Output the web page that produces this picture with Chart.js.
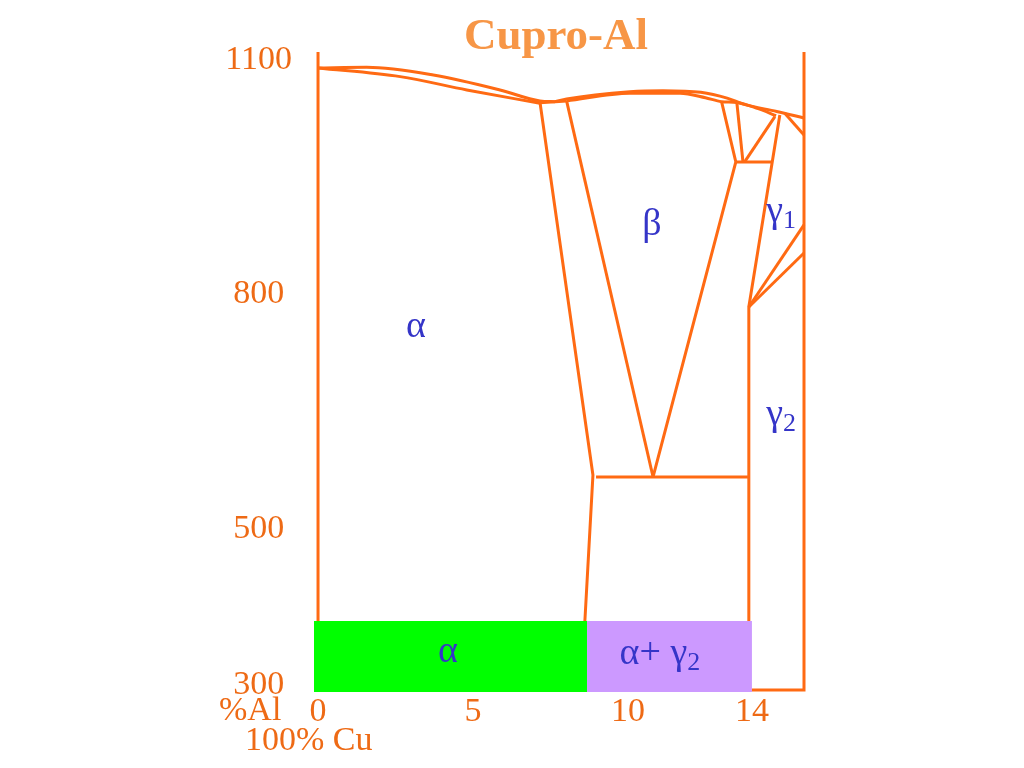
<!DOCTYPE html>
<html>
<head>
<meta charset="utf-8">
<script src="https://cdn.jsdelivr.net/npm/chart.js@4.4.1/dist/chart.umd.min.js"></script>
<style>
  html, body { margin: 0; padding: 0; background: #fff; }
  #wrap { width: 1024px; height: 768px; }
</style>
</head>
<body>
<div id="wrap"><canvas id="c"></canvas></div>
<script>
// tick labels
const xTicks = [0, 5, 10, 14];
const yTicks = [300, 500, 800, 1100];

// phase boundaries : [%Al, °C]
const liquidusAlpha = [[0, 1089.6], [1.57, 1090.5], [3.72, 1080.6], [5.87, 1061.5], [7.16, 1047.4], [7.65, 1046.5]];
const liquidusBeta = [[7.65, 1046.5], [8.02, 1050], [10.06, 1059.3], [11.13, 1060.6], [12.35, 1058.5], [13.2, 1051], [13.75, 1043], [14.8, 1034], [15.68, 1025.5]];
const solidusAlpha = [[0, 1089.6], [2.65, 1078.5], [4.8, 1061.5], [7.16, 1044.4]];
const solidusBeta = [[8.02, 1047.4], [10.06, 1057.2], [11.68, 1057.2], [12.5, 1051.5], [13.02, 1046.5], [13.51, 1045.5], [14.2, 1037.5], [14.78, 1028.5]];
const eutectic = [[7.16, 1045], [8.02, 1047.4]];
const solvusAlpha = [[7.16, 1046], [8.87, 569], [8.61, 382.3]];
const betaLeft = [[8.02, 1047.4], [10.81, 566.5]];
const betaRight = [[13.02, 1046.5], [13.48, 969.4], [10.81, 566.5]];
const betaRight2 = [[13.51, 1046.5], [13.71, 969.8]];
const peritectic = [[13.48, 969.4], [14.64, 969.4]];
const diagonal = [[13.77, 969.8], [14.74, 1027.3]];
const gamma1Left = [[14.9, 1029.5], [13.9, 783.9], [13.9, 382.3]];
const gammaTop = [[15.06, 1031.7], [15.68, 1003.9]];
const gammaA = [[13.9, 783.9], [15.68, 888.8]];
const gammaB = [[13.9, 783.9], [15.68, 853.0]];
const eutectoid = [[8.97, 566.5], [13.87, 566.5]];
const leftEdge = [[0, 1110], [0, 382.3]];
const rightEdge = [[15.68, 1110], [15.68, 294.1], [14.0, 294.1]];

// room-temperature structure bands
const greenBand = [[-0.13, 382.3], [8.68, 382.3]];
const purpleBand = [[8.68, 382.3], [14.0, 382.3]];
const bandBase = 291.5;

// phase names [text, subscript, %Al, °C]
const phaseNames = [
  ['α', '', 3.16, 758],
  ['β', '', 10.77, 889],
  ['γ', '1', 14.94, 905],
  ['γ', '2', 14.94, 646],
  ['α', '', 4.19, 343],
  ['α+ γ', '2', 11.03, 340]
];

const ORANGE = '#ff6a13';
const TEXT_ORANGE = '#ee6a15';
const pts = a => a.map(p => ({ x: p[0], y: p[1] }));

function line(arr, smooth) {
  return {
    data: pts(arr),
    borderColor: ORANGE,
    borderWidth: 3,
    pointRadius: 0,
    fill: false,
    clip: false,
    cubicInterpolationMode: smooth ? 'monotone' : 'default',
    tension: 0
  };
}
function band(arr, color) {
  return {
    data: pts(arr),
    borderWidth: 0,
    borderColor: color,
    backgroundColor: color,
    pointRadius: 0,
    fill: { value: bandBase },
    clip: false
  };
}

const textPlugin = {
  id: 'texts',
  afterDraw(chart) {
    const { ctx } = chart;
    const x = chart.scales.x, y = chart.scales.y;
    ctx.save();
    ctx.font = 'bold 45px "Liberation Serif"';
    ctx.fillStyle = '#f79646';
    ctx.textAlign = 'center';
    ctx.textBaseline = 'middle';
    ctx.fillText('Cupro-Al', 556, 37);

    ctx.font = '34px "Liberation Serif"';
    ctx.fillStyle = TEXT_ORANGE;
    ctx.textAlign = 'left';
    ctx.fillText('%Al', 219, 711);
    ctx.fillText('100% Cu', 245, 741);

    ctx.fillStyle = '#3535c8';
    phaseNames.forEach(n => {
      const px = x.getPixelForValue(n[2]);
      const py = y.getPixelForValue(n[3]);
      ctx.font = '38px "Liberation Serif"';
      const w = ctx.measureText(n[0]).width;
      ctx.font = '26px "Liberation Serif"';
      const ws = n[1] ? ctx.measureText(n[1]).width : 0;
      const start = px - (w + ws) / 2;
      ctx.font = '38px "Liberation Serif"';
      ctx.fillText(n[0], start, py);
      if (n[1]) {
        ctx.font = '26px "Liberation Serif"';
        ctx.fillText(n[1], start + w, py + 9);
      }
    });
    ctx.restore();
  }
};

Chart.defaults.font.family = '"Liberation Serif", "Times New Roman", serif';

new Chart(document.getElementById('c'), {
  type: 'line',
  data: {
    datasets: [
      line(liquidusAlpha, true), line(liquidusBeta, true),
      line(solidusAlpha, true), line(solidusBeta, true),
      line(eutectic), line(solvusAlpha), line(betaLeft), line(betaRight),
      line(betaRight2), line(peritectic), line(diagonal), line(gamma1Left),
      line(gammaTop), line(gammaA), line(gammaB), line(eutectoid),
      line(leftEdge), line(rightEdge),
      band(greenBand, '#00ff00'), band(purpleBand, '#cc99ff')
    ]
  },
  options: {
    responsive: true,
    maintainAspectRatio: false,
    animation: false,
    layout: { padding: { top: 52, right: 220, left: 0, bottom: 0 } },
    plugins: { legend: { display: false }, tooltip: { enabled: false } },
    scales: {
      x: {
        type: 'linear',
        min: -0.13,
        max: 15.68,
        grid: { display: false, drawTicks: false },
        border: { display: false },
        afterBuildTicks: s => { s.ticks = xTicks.map(v => ({ value: v })); },
        afterFit: s => { s.height = 76; },
        ticks: { color: TEXT_ORANGE, font: { size: 34 }, padding: 0, maxRotation: 0, autoSkip: false,
                 callback: v => String(v) }
      },
      y: {
        type: 'linear',
        min: 291.5,
        max: 1110,
        grid: { display: false, drawTicks: false },
        border: { display: false },
        afterBuildTicks: s => { s.ticks = yTicks.map(v => ({ value: v })); },
        afterFit: s => { s.width = 314; },
        ticks: { color: TEXT_ORANGE, font: { size: 34 }, padding: 22, crossAlign: 'center', autoSkip: false,
                 callback: v => String(v) }
      }
    }
  },
  plugins: [textPlugin]
});
</script>
</body>
</html>
